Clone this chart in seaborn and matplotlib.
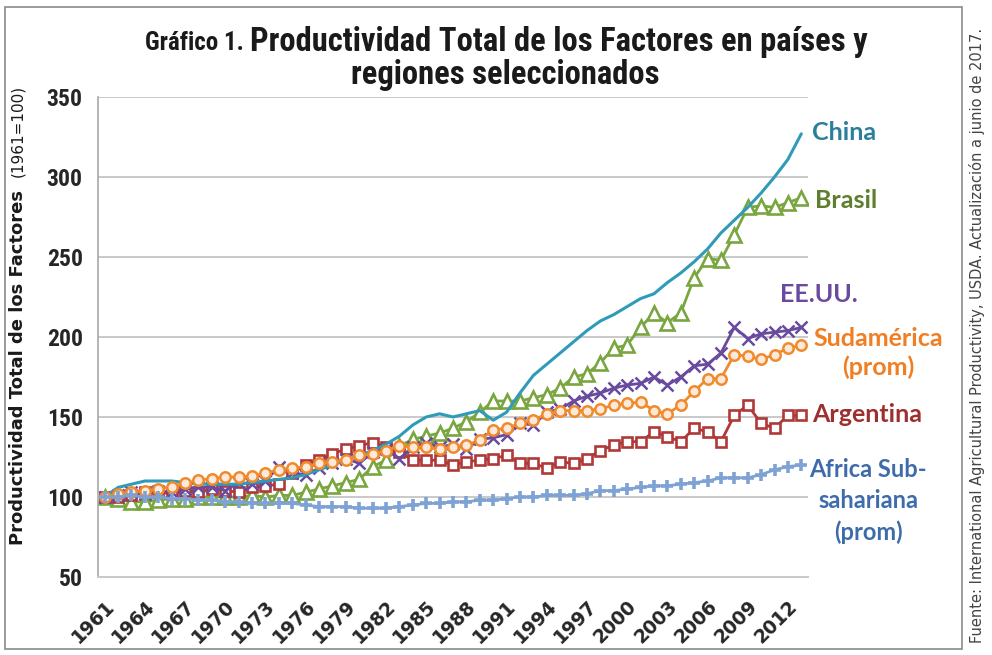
import matplotlib
matplotlib.use("Agg")
import matplotlib.pyplot as plt
import seaborn as sns
import numpy as np
from matplotlib.patches import Rectangle

# Datos (índice 1961=100)
years = list(range(1961, 2014))

china = [100, 106, 108, 110, 110, 110, 109, 108, 108, 108,
         108, 109, 110, 111, 112, 114, 117, 120, 123, 126,
         129, 133, 138, 145, 150, 152, 150, 152, 154, 148,
         153, 165, 176, 183, 190, 197, 204, 210, 214, 219,
         224, 227, 234, 240, 247, 255, 265, 273, 281, 290,
         300, 311, 327]

brasil = [100, 99, 97, 97, 98, 99, 99, 100, 100, 100,
          100, 101, 100, 101, 101, 103, 105, 107, 109, 111,
          119, 123, 132, 136, 138, 140, 143, 147, 153, 160,
          160, 160, 162, 164, 168, 175, 177, 184, 193, 195,
          206, 215, 209, 215, 237, 249, 248, 264, 281, 282,
          281, 284, 287]

eeuu = [100, 101, 103, 102, 104, 103, 105, 106, 106, 104,
        109, 108, 110, 119, 115, 114, 118, 121, 124, 121,
        128, 130, 124, 131, 134, 131, 133, 130, 136, 137,
        139, 146, 145, 153, 155, 160, 163, 165, 168, 170,
        171, 175, 170, 175, 182, 183, 190, 206, 199, 202,
        203, 204, 206]

sudamerica = [100, 102, 103, 104, 105, 106.5, 108.5, 110.5, 111.5, 112.5,
              112.5, 113, 115, 117, 118, 119, 121, 122, 123, 126,
              127, 129, 132, 131, 131, 130, 131, 132.5, 135.5, 142,
              143, 146, 148, 152, 154, 154, 154, 155, 157.5, 158.5,
              159.5, 154, 152, 157.5, 166, 174, 174, 189, 188, 186,
              189, 193, 195]

argentina = [100, 100, 101, 103, 103, 102, 104, 103, 105, 104,
             103, 106, 107, 108, 115, 120, 123, 127, 130, 132,
             134, 131, 128, 123, 123, 123, 120, 122, 123, 124,
             126, 121, 121, 118, 122, 121, 124, 129, 132.5, 134.6,
             134.6, 140.8, 137.7, 134.6, 142.9, 140.8, 134.6, 151, 157.5, 146,
             143, 151, 151]

africa = [100, 100, 101, 100, 100, 99, 99, 98, 98, 97,
          97, 96, 96, 96, 96, 95, 94, 94, 94, 93,
          93, 93, 94, 95, 96, 96, 97, 97, 98, 98,
          99, 100, 100, 101, 101, 101, 102, 104, 104, 105,
          106, 107, 107, 108, 109, 110, 112, 112, 112, 114,
          117, 119, 120]

year_labels = list(range(1961, 2013, 3))
y_ticks = [50, 100, 150, 200, 250, 300, 350]

sns.set_style("white")
plt.rcParams['font.family'] = ['DejaVu Sans']

NARROW = ['Roboto Condensed', 'Roboto', 'DejaVu Sans']
LBL = ['Lato', 'DejaVu Sans']

W, H = 992, 655
fig = plt.figure(figsize=(W / 100, H / 100), dpi=100)
ax = fig.add_axes([98 / W, 1 - 577 / H, (808 - 98) / W, (577 - 97) / H])

c_china = '#2f9bb8'
c_brasil = '#7aa640'
c_eeuu = '#6a4a9e'
c_sud = '#f08a2c'
c_arg = '#b03838'
c_afr = '#7fa2d4'

sns.lineplot(x=years, y=brasil, ax=ax, color=c_brasil, linewidth=2,
             marker='^', markersize=9.5, markerfacecolor='white',
             markeredgecolor=c_brasil, markeredgewidth=1.9)
sns.lineplot(x=years, y=argentina, ax=ax, color=c_arg, linewidth=2,
             marker='s', markersize=7, markerfacecolor='white',
             markeredgecolor=c_arg, markeredgewidth=1.9)
sns.lineplot(x=years, y=eeuu, ax=ax, color=c_eeuu, linewidth=2,
             marker='x', markersize=8, markeredgecolor=c_eeuu, markeredgewidth=1.8)
sns.lineplot(x=years, y=china, ax=ax, color=c_china, linewidth=2.2)
sns.lineplot(x=years, y=sudamerica, ax=ax, color=c_sud, linewidth=2,
             marker='o', markersize=7.5, markerfacecolor='#fde9d9',
             markeredgecolor=c_sud, markeredgewidth=1.8)
sns.lineplot(x=years, y=africa, ax=ax, color=c_afr, linewidth=2,
             marker='+', markersize=9, markeredgecolor=c_afr, markeredgewidth=2.6)

ax.set_xlim(1960.5, 2013.5)
ax.set_ylim(50, 350)
ax.set_yticks(y_ticks)
ax.yaxis.grid(True, color='#c9c9c9', linewidth=1.4)
ax.set_axisbelow(True)
for s in ['top', 'right']:
    ax.spines[s].set_visible(False)
ax.spines['left'].set_color('#a8a8a8')
ax.spines['bottom'].set_color('#c9c9c9')
ax.spines['left'].set_linewidth(1.2)
ax.spines['bottom'].set_linewidth(1.4)

ax.set_xticks(year_labels)
ax.set_xticks(np.arange(1960.5, 2014, 1), minor=True)
ax.set_xticklabels([str(y) for y in year_labels], rotation=45, ha='right',
                   rotation_mode='anchor', fontweight='bold', fontsize=13.5)
ax.tick_params(axis='x', which='major', length=0, pad=14)
ax.tick_params(axis='x', which='minor', length=5, color='#b0b0b0', width=1, direction='out')
ax.tick_params(axis='y', length=5, color='#a8a8a8', width=1, direction='out', pad=6)
for t in ax.get_yticklabels():
    t.set_fontweight('bold')
    t.set_fontsize(17)
    t.set_family(NARROW)
ax.set_xlabel('')
ax.set_ylabel('')

def fx(x):
    return x / W

def fy(y):
    return 1 - y / H

# Título
fig.text(fx(244), fy(43), 'Gráfico 1.', ha='right', va='center', fontsize=18,
         fontweight='bold', family=NARROW, color='#1a1a1a')
fig.text(fx(250), fy(42), 'Productividad Total de los Factores en países y',
         ha='left', va='center', fontsize=23.5, fontweight='bold', family=NARROW, color='#1a1a1a')
fig.text(fx(505), fy(75), 'regiones seleccionados', ha='center', va='center',
         fontsize=23.5, fontweight='bold', family=NARROW, color='#1a1a1a')

# Eje Y
fig.text(fx(18), fy(545), 'Productividad Total de los Factores', rotation=90,
         ha='center', va='bottom', fontsize=13, fontweight='bold', color='#1a1a1a')
fig.text(fx(18), fy(85), '(1961=100)', rotation=90, ha='center', va='top',
         fontsize=11, color='#1a1a1a')

# Etiquetas de series
fig.text(fx(812), fy(133), 'China', ha='left', va='center', fontsize=18,
         fontweight='bold', family=LBL, color='#2a7f9a')
fig.text(fx(815), fy(200), 'Brasil', ha='left', va='center', fontsize=18,
         fontweight='bold', family=LBL, color='#5d7f2e')
fig.text(fx(780), fy(295), 'EE.UU.', ha='left', va='center', fontsize=18,
         fontweight='bold', family=LBL, color='#6a4a9e')
fig.text(fx(878), fy(353), 'Sudamérica\n(prom)', ha='center', va='center', fontsize=18,
         fontweight='bold', family=LBL, color='#f07e22', linespacing=1.3)
fig.text(fx(812), fy(415), 'Argentina', ha='left', va='center', fontsize=18,
         fontweight='bold', family=LBL, color='#9e2f2f')
fig.text(fx(868), fy(501), 'Africa Sub-\nsahariana\n(prom)', ha='center', va='center',
         fontsize=17, fontweight='bold', family=LBL, color='#3d6bab', linespacing=1.4)

# Fuente
fig.text(fx(977), fy(335), 'Fuente: International Agricultural Productivity, USDA. '
         'Actualización a junio de 2017.', rotation=90, ha='center', va='center',
         fontsize=10.5, color='#444444')

# Marco
fig.patches.append(Rectangle((fx(5), fy(649)), fx(962) - fx(5), fy(7) - fy(649),
                             transform=fig.transFigure, fill=False,
                             edgecolor='#8a8a8a', linewidth=1.2))

fig.savefig('out.png', dpi=100)
